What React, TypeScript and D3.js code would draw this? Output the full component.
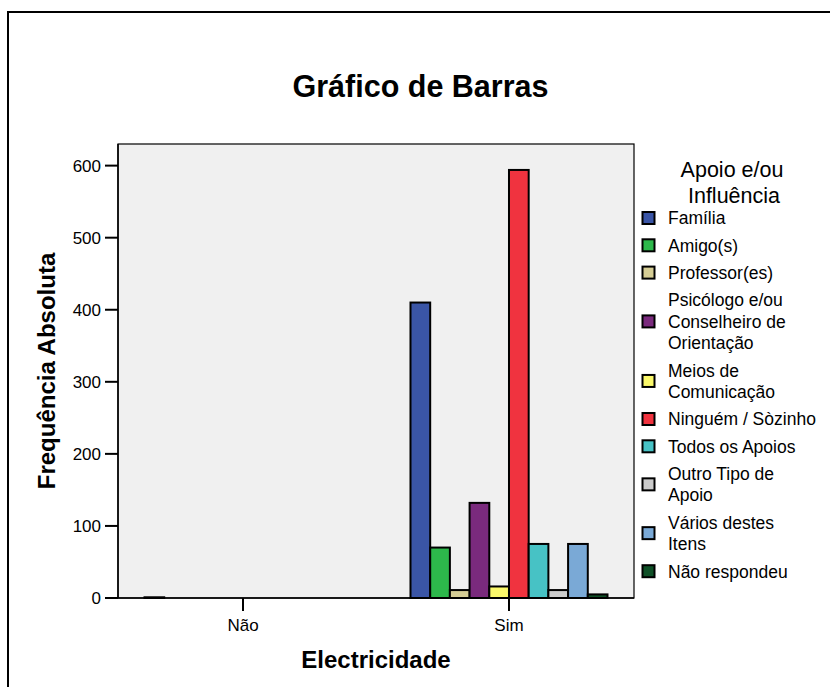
import React from "react";
import * as d3 from "d3";

const categories = ["Não", "Sim"];
const series = [
  "Família",
  "Amigo(s)",
  "Professor(es)",
  "Psicólogo e/ou Conselheiro de Orientação",
  "Meios de Comunicação",
  "Ninguém / Sòzinho",
  "Todos os Apoios",
  "Outro Tipo de Apoio",
  "Vários destes Itens",
  "Não respondeu",
];
const legendLines = [
  ["Família"],
  ["Amigo(s)"],
  ["Professor(es)"],
  ["Psicólogo e/ou", "Conselheiro de", "Orientação"],
  ["Meios de", "Comunicação"],
  ["Ninguém / Sòzinho"],
  ["Todos os Apoios"],
  ["Outro Tipo de", "Apoio"],
  ["Vários destes", "Itens"],
  ["Não respondeu"],
];
const valuesNao = [1, 0, 0, 0, 0, 0, 0, 0, 0, 0];
const valuesSim = [410, 70, 11, 132, 16, 594, 75, 11, 75, 5];
const colors = [
  "#3A55A6",
  "#2DB84B",
  "#D5CD95",
  "#7A2A7D",
  "#FBF96B",
  "#F0333F",
  "#47C2C5",
  "#CBCBCB",
  "#7AA9D6",
  "#0F5027",
];
const yTicks = [0, 100, 200, 300, 400, 500, 600];

const FONT = "'Liberation Sans', Arial, Helvetica, sans-serif";

export default function App() {
  const W = 830;
  const H = 687;
  const left = 118;
  const right = 634;
  const top = 144;
  const bottom = 598;

  const x0 = d3.scalePoint<string>().domain(categories).range([left, right]).padding(0.47);
  const x1 = d3.scaleBand<string>().domain(series).range([-98.5, 98.5]).padding(0);
  const y = d3.scaleLinear().domain([0, 630]).range([bottom, top]);

  const data = [valuesNao, valuesSim];

  // legend layout
  const lineStep = 21.5;
  const itemGap = 27.3;
  let cy = 218;
  const legendItems = legendLines.map((lines, i) => {
    const ys = lines.map((_, k) => cy + k * lineStep);
    const center = (ys[0] + ys[ys.length - 1]) / 2;
    cy = ys[ys.length - 1] + itemGap;
    return { lines, ys, center, color: colors[i] };
  });

  return (
    <svg
      width={W}
      height={H}
      style={{ position: "absolute", left: 0, top: 0, background: "#fff" }}
      fontFamily={FONT}
    >
      <rect x={0} y={0} width={W} height={H} fill="#fff" />
      {/* outer frame */}
      <line x1={8} y1={12} x2={W} y2={12} stroke="#000" strokeWidth={2} />
      <line x1={8} y1={11} x2={8} y2={H} stroke="#000" strokeWidth={2} />

      <text x={420.5} y={97} textAnchor="middle" fontSize={30.5} fontWeight="bold" fill="#000">
        Gráfico de Barras
      </text>

      {/* plot area */}
      <rect x={left} y={top} width={right - left} height={bottom - top} fill="#F0F0F0" stroke="#000" strokeWidth={1.2} />

      {/* bars */}
      {categories.map((c, ci) =>
        series.map((s, si) => {
          const v = data[ci][si];
          if (v <= 0) return null;
          const bx = (x0(c) as number) + (x1(s) as number);
          return (
            <rect
              key={c + s}
              x={bx}
              y={y(v)}
              width={x1.bandwidth()}
              height={y(0) - y(v)}
              fill={colors[si]}
              stroke="#000"
              strokeWidth={2}
            />
          );
        })
      )}

      {/* y axis */}
      <line x1={left} y1={top} x2={left} y2={bottom} stroke="#000" strokeWidth={1.5} />
      {yTicks.map((t) => (
        <g key={t}>
          <line x1={105} x2={left} y1={y(t)} y2={y(t)} stroke="#000" strokeWidth={2} />
          <text x={101} y={y(t)} dy="0.36em" textAnchor="end" fontSize={17} fill="#000">
            {t}
          </text>
        </g>
      ))}

      {/* x axis */}
      <line x1={left} y1={bottom} x2={right} y2={bottom} stroke="#000" strokeWidth={1.5} />
      {categories.map((c) => (
        <g key={c}>
          <line x1={x0(c)} x2={x0(c)} y1={bottom} y2={611} stroke="#000" strokeWidth={2} />
          <text x={x0(c)} y={631} textAnchor="middle" fontSize={17} fill="#000">
            {c}
          </text>
        </g>
      ))}

      <text x={(left + right) / 2} y={668} textAnchor="middle" fontSize={24} fontWeight="bold" fill="#000">
        Electricidade
      </text>
      <text
        transform={`translate(55, ${(top + bottom) / 2}) rotate(-90)`}
        textAnchor="middle"
        fontSize={24}
        fontWeight="bold"
        fill="#000"
      >
        Frequência Absoluta
      </text>

      {/* legend */}
      <text x={732} y={177} textAnchor="middle" fontSize={21.5} fill="#000">
        Apoio e/ou
      </text>
      <text x={734} y={203} textAnchor="middle" fontSize={21.5} fill="#000">
        Influência
      </text>
      {legendItems.map((it, i) => (
        <g key={i}>
          <rect x={642.5} y={it.center - 6} width={12} height={12} fill={it.color} stroke="#000" strokeWidth={2} />
          {it.lines.map((l, k) => (
            <text key={k} x={668} y={it.ys[k]} dy="0.36em" fontSize={17.5} fill="#000">
              {l}
            </text>
          ))}
        </g>
      ))}
    </svg>
  );
}
